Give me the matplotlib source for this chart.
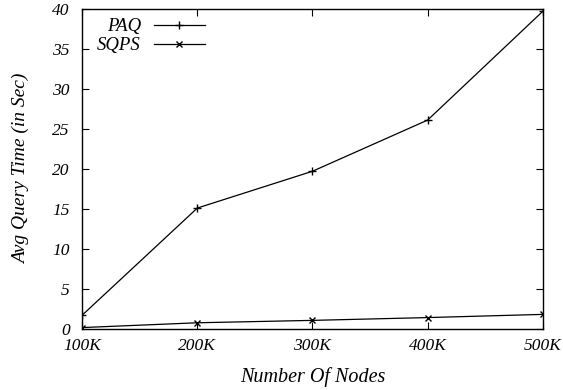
import matplotlib.pyplot as plt

nodes = [100, 200, 300, 400, 500]
tick_labels = ["100K", "200K", "300K", "400K", "500K"]
paq = [1.7, 15.1, 19.7, 26.1, 39.7]
sqps = [0.15, 0.75, 1.05, 1.4, 1.8]

plt.rcParams['font.family'] = ['Liberation Serif', 'DejaVu Serif']
plt.rcParams['font.style'] = 'italic'
plt.rcParams['font.size'] = 13

fig = plt.figure(figsize=(5.63, 3.90), dpi=100)
ax = fig.add_axes([0.146, 0.157, 0.818, 0.82])

ax.plot(nodes, paq, color="black", linewidth=0.9, marker="+", markersize=6, label="PAQ")
ax.plot(nodes, sqps, color="black", linewidth=0.9, marker="x", markersize=4, label="SQPS")

ax.set_xlim(100, 500)
ax.set_ylim(0, 40)
ax.set_xticks(nodes)
ax.set_xticklabels(tick_labels)
ax.set_yticks(range(0, 41, 5))
ax.tick_params(axis="x", direction="in", top=True, length=5, width=0.8, pad=7, labelsize=12.5)
ax.tick_params(axis="y", direction="in", right=True, length=5, width=0.8, pad=9, labelsize=12.5)
for s in ax.spines.values():
    s.set_linewidth(1.0)

ax.set_xlabel("Number Of Nodes", fontsize=14.5, labelpad=9)
ax.set_ylabel("Avg Query Time (in Sec)", fontsize=14, labelpad=16)

ax.legend(loc="upper left", frameon=False, markerfirst=False, handlelength=2.7,
          handletextpad=0.7, borderaxespad=0.1, labelspacing=0.1, fontsize=13.5,
          bbox_to_anchor=(0.012, 1.0))

fig.savefig("out.png", dpi=100)
